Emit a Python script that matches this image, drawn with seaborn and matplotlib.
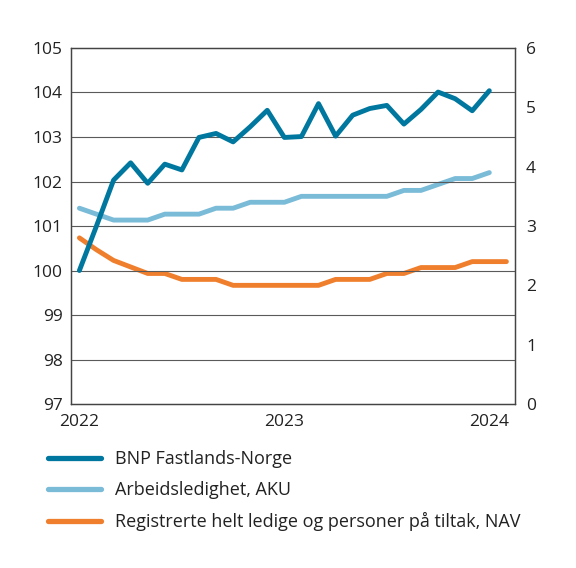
import numpy as np
import matplotlib
matplotlib.use("Agg")
import matplotlib.pyplot as plt
import seaborn as sns

# --- data (monthly, Jan 2022 -> ) ---
bnp = [100.0, 101.0, 102.03, 102.42, 101.96, 102.39, 102.26, 102.99, 103.08, 102.89,
       103.23, 103.6, 102.99, 103.01, 103.75, 103.02, 103.49, 103.64, 103.71, 103.29,
       103.62, 104.01, 103.86, 103.59, 104.04]
aku = [3.3, 3.2, 3.1, 3.1, 3.1, 3.2, 3.2, 3.2, 3.3, 3.3, 3.4, 3.4, 3.4, 3.5,
       3.5, 3.5, 3.5, 3.5, 3.5, 3.6, 3.6, 3.7, 3.8, 3.8, 3.9]
nav = [2.8, 2.6, 2.42, 2.31, 2.2, 2.2, 2.1, 2.1, 2.1, 2.0, 2.0, 2.0, 2.0, 2.0,
       2.0, 2.1, 2.1, 2.1, 2.2, 2.2, 2.3, 2.3, 2.3, 2.4, 2.4, 2.4]
labels = ["BNP Fastlands-Norge", "Arbeidsledighet, AKU",
          "Registrerte helt ledige og personer på tiltak, NAV"]
year_labels = ["2022", "2023", "2024"]

C_BNP = "#00779e"
C_AKU = "#7abbd8"
C_NAV = "#f07f2d"

sns.set_theme(style="white")
plt.rcParams["font.family"] = ["Open Sans", "DejaVu Sans"]

fig = plt.figure(figsize=(5.76, 5.68), dpi=100)
ax = fig.add_axes([0.123, 0.2887, 0.771, 0.6268])
ax2 = ax.twinx()

LW = 3.5
sns.lineplot(x=np.arange(len(bnp)), y=bnp, ax=ax, color=C_BNP, lw=LW, zorder=5)
sns.lineplot(x=np.arange(len(aku)), y=aku, ax=ax2, color=C_AKU, lw=LW)
sns.lineplot(x=np.arange(len(nav)), y=nav, ax=ax2, color=C_NAV, lw=LW)

# BNP over the twin axis
ax.set_zorder(ax2.get_zorder() + 1)
ax.patch.set_visible(False)

ax.set_xlim(-0.5, 25.5)
ax.set_ylim(97, 105)
ax2.set_ylim(0, 6)
ax.set_yticks(range(97, 106))
ax2.set_yticks(range(0, 7))

for y in range(98, 105):
    ax.axhline(y, color="#5a5a5a", lw=0.8, zorder=0)

ax.set_xticks([0, 12, 24])
ax.set_xticklabels(year_labels)
ax.set_xticks(np.arange(2.5, 25, 3), minor=True)
ax.tick_params(axis="x", which="major", length=0, labelsize=12.5, pad=7, colors="#222222")
ax.tick_params(axis="x", which="minor", length=5, direction="in", width=0.8, color="#444444")
ax.tick_params(axis="y", length=0, labelsize=12.5, pad=6, colors="#222222")
ax2.tick_params(axis="y", length=0, labelsize=12.5, pad=8, colors="#222222")

for a in (ax, ax2):
    for s in a.spines.values():
        s.set_color("#444444")
        s.set_linewidth(0.9)

handles = [plt.Line2D([], [], color=c, lw=3.8, solid_capstyle="round")
           for c in (C_BNP, C_AKU, C_NAV)]
fig.legend(handles, labels, loc="upper left", bbox_to_anchor=(0.071, 0.22),
           frameon=False, fontsize=13, handlelength=2.95, handletextpad=0.78,
           labelspacing=0.72, borderaxespad=0, labelcolor="#222222")

fig.savefig("out.png", dpi=100)
